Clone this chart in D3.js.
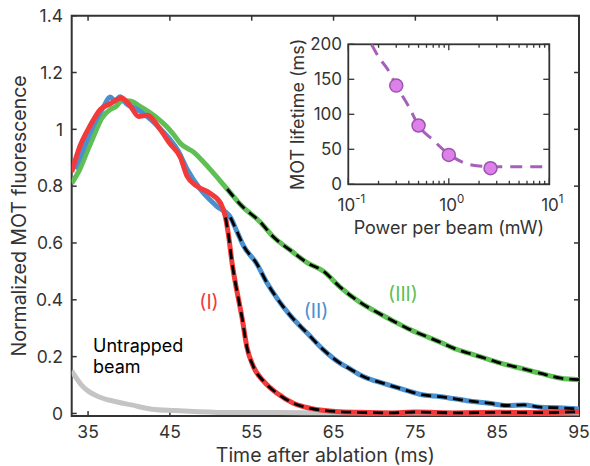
<!DOCTYPE html>
<html><head><meta charset="utf-8">
<script src="https://cdn.jsdelivr.net/npm/d3@7"></script>
<style>body{margin:0;background:#fff}svg{display:block}text{font-family:Inter,"Open Sans",sans-serif;fill:#333}</style>
</head><body>
<svg id="c" width="590" height="466"></svg>
<script>
// ---- main chart data (time in ms, normalized fluorescence) ----
const redT = [33.0,34.0,35.2,36.5,37.7,39.1,40.1,41.2,42.2,43.8,45.0,46.3,47.1,48.3,49.9,51.2,51.8,52.2,52.6,53.0,53.4,53.8,54.4,55.2,56.5,58.1,60.1,62.2,65.8,68.0,71.9,75.0,80.0,85.0,90.0,95.0];
const redV = [0.85,0.94,1.01,1.07,1.09,1.11,1.085,1.045,1.05,1.0,0.95,0.90,0.835,0.80,0.775,0.74,0.69,0.62,0.53,0.46,0.40,0.34,0.235,0.165,0.112,0.071,0.036,0.018,0.006,0.004,0.002,0.005,0.002,0.004,0.003,0.006];
const blueT = [33.4,34.0,35.0,35.6,36.9,37.7,38.3,38.9,39.7,41.0,42.0,43.8,45.0,46.0,47.1,48.7,50.7,52.4,53.2,54.0,55.6,56.9,58.1,59.7,61.8,63.8,65.8,66.7,68.7,71.1,73.5,76.0,78.1,81.3,84.0,86.2,88.3,90.3,92.5,95.0];
const blueV = [0.86,0.90,0.97,1.01,1.08,1.114,1.10,1.115,1.09,1.07,1.05,1.003,0.965,0.925,0.86,0.79,0.73,0.69,0.64,0.59,0.528,0.458,0.405,0.345,0.282,0.223,0.177,0.162,0.129,0.106,0.085,0.065,0.059,0.045,0.036,0.028,0.03,0.022,0.02,0.016];
const greenT = [33.0,34.0,35.0,35.6,36.7,37.7,38.4,39.1,40.1,41.4,43.0,44.6,45.5,46.3,47.9,49.9,52.0,53.8,56.0,57.7,59.7,61.8,63.8,65.8,68.3,70.7,72.0,74.0,76.0,78.1,80.1,82.2,84.2,85.4,87.9,90.3,92.8,95.0];
const greenV = [0.81,0.86,0.93,0.97,1.04,1.07,1.08,1.10,1.10,1.08,1.05,1.01,0.98,0.95,0.92,0.86,0.79,0.73,0.675,0.62,0.575,0.53,0.50,0.445,0.39,0.35,0.33,0.30,0.275,0.25,0.225,0.206,0.188,0.177,0.159,0.141,0.124,0.119];
const grayT = [33.0,34.2,35.2,36.3,38.3,40.3,42.8,45.6,48.5,52.6,58.0,65.0,75.0,85.0,95.0];
const grayV = [0.15,0.10,0.075,0.059,0.042,0.03,0.015,0.01,0.006,0.003,0.003,0.002,0.002,0.002,0.002];
const fitStart = {red:51.8, blue:52.0, green:52.0};
const xTicks = [35,45,55,65,75,85,95];
const yTicks = [0,0.2,0.4,0.6,0.8,1,1.2,1.4];
const yTickLabels = ["0","0.2","0.4","0.6","0.8","1","1.2","1.4"];
// ---- inset data (power per beam mW, MOT lifetime ms) ----
const insetP = [0.3,0.5,1.0,2.6];
const insetLife = [141,84,42,23];
const fitP = [0.17,0.2,0.25,0.3,0.4,0.5,0.7,1.0,1.4,2.0,3.0,5.0,10.0];
const fitLife = [200,182,163,141,111,84,63,43,31,26,25,25,25];
const insetYTicks = [0,50,100,150,200];
const insetXTicks = [0.1,1,10];
const insetXExp = ["-1","0","1"];

const svg = d3.select("#c");
const axisCol = "#333";
const L=71.7, R=579, T=15.7, B=416;
const x = d3.scaleLinear().domain([33,95]).range([L,R]);
const y = d3.scaleLinear().domain([-0.009,1.4]).range([B,T]);

const g = svg.append("g");
const tl=5;
xTicks.forEach(t=>{
  g.append("line").attr("x1",x(t)).attr("x2",x(t)).attr("y1",B).attr("y2",B-tl).attr("stroke",axisCol).attr("stroke-width",1.5);
  g.append("line").attr("x1",x(t)).attr("x2",x(t)).attr("y1",T).attr("y2",T+tl).attr("stroke",axisCol).attr("stroke-width",1.5);
  g.append("text").attr("x",x(t)).attr("y",438).attr("text-anchor","middle").attr("font-size",17.5).text(t);
});
yTicks.forEach((v,i)=>{
  g.append("line").attr("x1",L).attr("x2",L+tl).attr("y1",y(v)).attr("y2",y(v)).attr("stroke",axisCol).attr("stroke-width",1.5);
  g.append("line").attr("x1",R).attr("x2",R-tl).attr("y1",y(v)).attr("y2",y(v)).attr("stroke",axisCol).attr("stroke-width",1.5);
  g.append("text").attr("x",63).attr("y",y(v)+6.3).attr("text-anchor","end").attr("font-size",17.5).text(yTickLabels[i]);
});

const line = d3.line().x(d=>x(d[0])).y(d=>y(d[1])).curve(d3.curveMonotoneX);
const zip = (a,b)=>a.map((v,i)=>[v,b[i]]);
const series = [
  {t:grayT,v:grayV,c:"#c4c4c4",fit:null},
  {t:greenT,v:greenV,c:"#5fbf55",fit:fitStart.green},
  {t:blueT,v:blueV,c:"#4a90cf",fit:fitStart.blue},
  {t:redT,v:redV,c:"#f23a3a",fit:fitStart.red}
];
svg.append("clipPath").attr("id","pc").append("rect").attr("x",L).attr("y",T).attr("width",R-L).attr("height",B-T);
const pl = svg.append("g").attr("clip-path","url(#pc)");
series.forEach(s=>{
  pl.append("path").attr("d",line(zip(s.t,s.v))).attr("fill","none").attr("stroke",s.c).attr("stroke-width",5).attr("stroke-linejoin","round");
});
series.forEach(s=>{
  if(s.fit==null) return;
  const pts = zip(s.t,s.v).filter(d=>d[0]>=s.fit);
  pl.append("path").attr("d",line(pts)).attr("fill","none").attr("stroke","#000").attr("stroke-width",2.8).attr("stroke-dasharray","10,6");
});
g.append("path").attr("d",`M${L},${T}V${B}H${R}V${T}Z`).attr("fill","none").attr("stroke",axisCol).attr("stroke-width",2);

svg.append("text").attr("x",(L+R)/2).attr("y",461.5).attr("text-anchor","middle").attr("font-size",19.5).text("Time after ablation (ms)");
svg.append("text").attr("transform",`translate(26,${(T+B)/2}) rotate(-90)`).attr("text-anchor","middle").attr("font-size",19.5).text("Normalized MOT fluorescence");

svg.append("text").attr("x",209).attr("y",309).attr("text-anchor","middle").attr("font-size",19.5).style("fill","#f23a3a").text("(I)");
svg.append("text").attr("x",316).attr("y",318).attr("text-anchor","middle").attr("font-size",19.5).style("fill","#4a90cf").text("(II)");
svg.append("text").attr("x",403).attr("y",301).attr("text-anchor","middle").attr("font-size",19.5).style("fill","#5fbf55").text("(III)");
svg.append("text").attr("x",93).attr("y",352).attr("font-size",18).style("fill","#000").text("Untrapped");
svg.append("text").attr("x",93).attr("y",373).attr("font-size",18).style("fill","#000").text("beam");

// ---- inset ----
const iL=348.3,iR=549.3,iT=44.3,iB=184.3;
const ix = d3.scaleLog().domain([0.1,10]).range([iL,iR]);
const iy = d3.scaleLinear().domain([0,200]).range([iB,iT]);
const ig = svg.append("g");
ig.append("rect").attr("x",iL).attr("y",iT).attr("width",iR-iL).attr("height",iB-iT).attr("fill","#fff");
const logTicks = [];
for (let dec of [0.1,1]) for (let k=1;k<=9;k++) logTicks.push(dec*k);
logTicks.push(10);
logTicks.forEach(t=>{
  const major = [0.1,1,10].includes(+t.toFixed(6));
  const len = major?6:3.5;
  ig.append("line").attr("x1",ix(t)).attr("x2",ix(t)).attr("y1",iB).attr("y2",iB-len).attr("stroke",axisCol).attr("stroke-width",1.3);
  ig.append("line").attr("x1",ix(t)).attr("x2",ix(t)).attr("y1",iT).attr("y2",iT+len).attr("stroke",axisCol).attr("stroke-width",1.3);
});
insetYTicks.forEach(v=>{
  ig.append("line").attr("x1",iL).attr("x2",iL+6).attr("y1",iy(v)).attr("y2",iy(v)).attr("stroke",axisCol).attr("stroke-width",1.3);
  ig.append("line").attr("x1",iR).attr("x2",iR-6).attr("y1",iy(v)).attr("y2",iy(v)).attr("stroke",axisCol).attr("stroke-width",1.3);
  ig.append("text").attr("x",342).attr("y",iy(v)+6).attr("text-anchor","end").attr("font-size",17).text(v);
});
insetXTicks.forEach((t,i)=>{
  const tx = ig.append("text").attr("x",ix(t)+3).attr("y",211).attr("text-anchor","middle").attr("font-size",17);
  tx.append("tspan").text("10");
  tx.append("tspan").attr("dy",-8).attr("font-size",11.5).text(insetXExp[i]);
});
svg.append("clipPath").attr("id","ic").append("rect").attr("x",iL).attr("y",iT).attr("width",iR-iL).attr("height",iB-iT);
const ipl = svg.append("g").attr("clip-path","url(#ic)");
const fitLine = d3.line().x(d=>ix(d[0])).y(d=>iy(d[1])).curve(d3.curveMonotoneX);
ipl.append("path").attr("d",fitLine(zip(fitP,fitLife))).attr("fill","none").attr("stroke","#a65fba").attr("stroke-width",3).attr("stroke-dasharray","12,8");
ipl.selectAll("circle").data(zip(insetP,insetLife)).join("circle")
  .attr("cx",d=>ix(d[0])).attr("cy",d=>iy(d[1])).attr("r",6.5)
  .attr("fill","#dd80ea").attr("stroke","#9b55ad").attr("stroke-width",1.5);
ig.append("rect").attr("x",iL).attr("y",iT).attr("width",iR-iL).attr("height",iB-iT).attr("fill","none").attr("stroke",axisCol).attr("stroke-width",1.8);
ig.append("text").attr("x",(iL+iR)/2).attr("y",233.5).attr("text-anchor","middle").attr("font-size",18).text("Power per beam (mW)");
ig.append("text").attr("transform",`translate(304,${(iT+iB)/2}) rotate(-90)`).attr("text-anchor","middle").attr("font-size",18).text("MOT lifetime (ms)");
</script>
</body></html>
